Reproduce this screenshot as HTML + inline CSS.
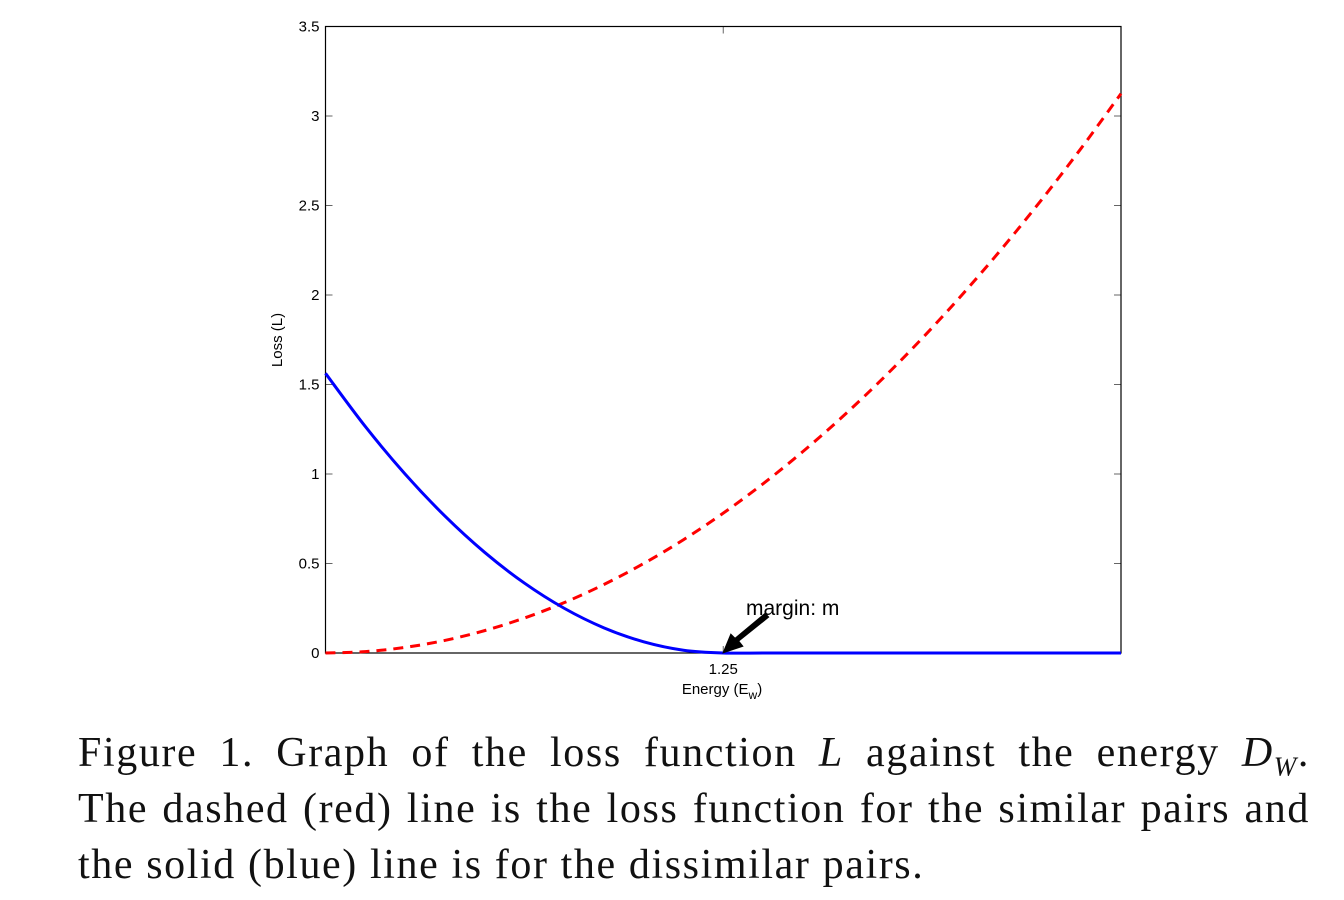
<!DOCTYPE html>
<html><head><meta charset="utf-8"><style>
body{margin:0;width:1344px;height:900px;background:#fff;overflow:hidden;position:relative;font-family:"Liberation Sans",sans-serif}
.cap{position:absolute;left:78px;width:1232px;font-family:"Liberation Serif",serif;font-size:42px;letter-spacing:1.6px;color:#111;text-align:justify;text-align-last:justify;white-space:nowrap;line-height:45px}
</style></head><body>
<svg width="1344" height="720" style="position:absolute;left:0;top:0" id="chart"></svg>
<div class="cap" style="top:731px">Figure 1. Graph of the loss function <i>L</i> against the energy <i>D<sub style="font-size:27px">W</sub></i>.</div>
<div class="cap" style="top:787px">The dashed (red) line is the loss function for the similar pairs and</div>
<div class="cap" style="top:843px;text-align-last:left;width:auto">the solid (blue) line is for the dissimilar pairs.</div>
<script>
const energies=[0,0.125,0.25,0.375,0.5,0.625,0.75,0.875,1,1.125,1.25,1.375,1.5,1.625,1.75,1.875,2,2.125,2.25,2.375,2.5];
const similarLoss=[0,0.0078,0.03125,0.0703,0.125,0.1953,0.28125,0.3828,0.5,0.6328,0.78125,0.9453,1.125,1.3203,1.53125,1.7578,2.0,2.2578,2.53125,2.8203,3.125];
const dissimilarLoss=[1.5625,1.2656,1.0,0.7656,0.5625,0.3906,0.25,0.1406,0.0625,0.0156,0,0,0,0,0,0,0,0,0,0,0];
const yTicks=[0,0.5,1,1.5,2,2.5,3,3.5];
const yTickLabels=["0","0.5","1","1.5","2","2.5","3","3.5"];
const xTicks=[1.25];
const xTickLabels=["1.25"];
const L=325.5,R=1121,T=26.5,B=653,xMax=2.5,yMax=3.5;
const sx=v=>L+v/xMax*(R-L), sy=v=>B-v/yMax*(B-T);
const svg=document.getElementById('chart');const NS='http://www.w3.org/2000/svg';
function mk(t,a,p){const e=document.createElementNS(NS,t);for(const k in a)e.setAttribute(k,a[k]);(p||svg).appendChild(e);return e;}
function smooth(xs,ys){const P=xs.map((x,i)=>[sx(x),sy(ys[i])]);let d='M'+P[0][0]+','+P[0][1];
for(let i=0;i<P.length-1;i++){const p0=P[Math.max(0,i-1)],p1=P[i],p2=P[i+1],p3=P[Math.min(P.length-1,i+2)];
d+=' C'+(p1[0]+(p2[0]-p0[0])/6)+','+(p1[1]+(p2[1]-p0[1])/6)+' '+(p2[0]-(p3[0]-p1[0])/6)+','+(p2[1]-(p3[1]-p1[1])/6)+' '+p2[0]+','+p2[1];}return d;}
yTicks.forEach((v,i)=>{
 let a=mk('line',{x1:L,x2:L+7,y1:sy(v),y2:sy(v),stroke:'#666'});
 
 let b=mk('line',{x1:R-7,x2:R,y1:sy(v),y2:sy(v),stroke:'#666'});
 
 let t=mk('text',{x:L-6,y:sy(v)+5,'text-anchor':'end','font-size':15,fill:'#000'});t.textContent=yTickLabels[i];
 
});
xTicks.forEach((v,i)=>{
 let a=mk('line',{x1:sx(v),x2:sx(v),y1:B,y2:B-7,stroke:'#666'});
 
 let b=mk('line',{x1:sx(v),x2:sx(v),y1:T,y2:T+7,stroke:'#666'});
 
 let t=mk('text',{x:sx(v),y:B+21,'text-anchor':'middle','font-size':15,fill:'#000'});t.textContent=xTickLabels[i];
 
});
let fr=mk('rect',{x:L,y:T,width:R-L,height:B-T,fill:'none',stroke:'#000','stroke-width':1.2});

let red=mk('path',{d:smooth(energies,similarLoss),fill:'none',stroke:'#ff0000','stroke-width':3,'stroke-dasharray':'10,7'});

let blue=mk('path',{d:smooth(energies,dissimilarLoss),fill:'none',stroke:'#0000ff','stroke-width':3});

let xl=mk('text',{x:722,y:694,'text-anchor':'middle','font-size':15,fill:'#000'});xl.innerHTML='Energy (E<tspan dy="5" font-size="12">w</tspan><tspan dy="-5">)</tspan>';

let yl=mk('text',{x:0,y:0,'text-anchor':'middle','font-size':15,fill:'#000',transform:'translate(282,340) rotate(-90)'});yl.textContent='Loss (L)';

let ar=mk('path',{d:'M768,617 L738,641 L742,646 L724,652 L731,635 L735,639 L765,614 Z',fill:'#000',stroke:'#000','stroke-width':2,'stroke-linejoin':'miter'});

let at=mk('text',{x:746,y:615,'font-size':21,fill:'#000'});at.textContent='margin: m';

</script>
</body></html>
